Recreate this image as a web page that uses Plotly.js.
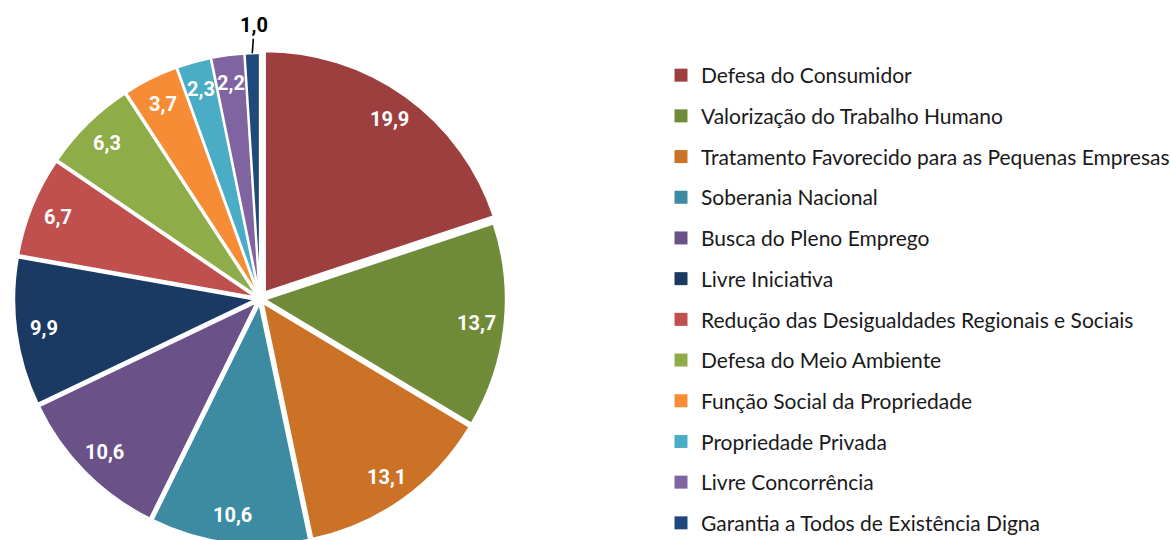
<!DOCTYPE html>
<html><head><meta charset="utf-8">
<script src="https://cdn.plot.ly/plotly-3.0.1.min.js"></script>
<style>html,body{margin:0;padding:0;overflow:hidden;background:#fff}</style>
</head><body><div id="chart" style="width:1171px;height:600px"></div>
<script>
const labels = [
  "Defesa do Consumidor",
  "Valorização do Trabalho Humano",
  "Tratamento Favorecido para as Pequenas Empresas",
  "Soberania Nacional",
  "Busca do Pleno Emprego",
  "Livre Iniciativa",
  "Redução das Desigualdades Regionais e Sociais",
  "Defesa do Meio Ambiente",
  "Função Social da Propriedade",
  "Propriedade Privada",
  "Livre Concorrência",
  "Garantia a Todos de Existência Digna"
];
const values = [19.9, 13.7, 13.1, 10.6, 10.6, 9.9, 6.7, 6.3, 3.7, 2.3, 2.2, 1.0];
const colors = ["#9D3F3F", "#6F8B38", "#CC7227", "#3D8BA3", "#6A5187", "#1A3A63",
                "#C0504D", "#8EAC48", "#F68D36", "#4BACC6", "#8064A2", "#1F497D"];
const pulls = [0.035, 0.02, 0.02, 0.02, 0.02, 0.02, 0.02, 0.02, 0.02, 0.02, 0.02, 0.02];
const insideLabel = [true, true, true, true, true, true, true, true, true, true, true, false];

// geometry (pixels)
const W = 1171, H = 600;
const cx = 260, cy = 299, R = 241;
const maxPull = Math.max(...pulls);
const half = R * (1 + maxPull);
const domX = [(cx - half) / W, (cx + half) / W];
const domY = [1 - (cy + half) / H, 1 - (cy - half) / H];

const fmt = v => v.toFixed(1).replace('.', ',');
const total = values.reduce((a, b) => a + b, 0);
const labelFont = 'Roboto, Liberation Sans Narrow, Arial Narrow, sans-serif';

const annotations = [];
let cum = 0;
values.forEach((v, i) => {
  const mid = (cum + v / 2) / total;
  cum += v;
  const th = 2 * Math.PI * mid;
  const s = Math.sin(th), c = Math.cos(th);
  if (insideLabel[i]) {
    const r = (0.885 + pulls[i]) * R;
    annotations.push({
      xref: 'paper', yref: 'paper', xanchor: 'center', yanchor: 'middle',
      x: (cx + r * s) / W, y: 1 - (cy - r * c) / H,
      text: '<b>' + fmt(v) + '</b>', showarrow: false,
      font: {family: labelFont, size: 20, color: '#ffffff'}
    });
  } else {
    const r = (1 + pulls[i]) * R;
    annotations.push({
      xref: 'paper', yref: 'paper', xanchor: 'center', yanchor: 'middle',
      x: (cx + r * s) / W, y: 1 - (cy - r * c) / H,
      text: '<b>' + fmt(v) + '</b>', showarrow: true,
      arrowhead: 0, arrowwidth: 1.6, arrowcolor: '#000000',
      ax: 2, ay: -28, standoff: 0,
      font: {family: labelFont, size: 20, color: '#000000'}
    });
  }
});

const traces = [{
  type: 'pie',
  labels: labels,
  values: values,
  sort: false,
  direction: 'clockwise',
  rotation: 0,
  pull: pulls,
  marker: {colors: colors, line: {color: '#ffffff', width: 2}},
  textinfo: 'none',
  hoverinfo: 'label+value',
  showlegend: false,
  domain: {x: domX, y: domY}
}];

labels.forEach((lab, i) => {
  traces.push({
    type: 'scatter', mode: 'markers',
    x: [null], y: [null],
    name: lab, legendgroup: 'g' + i,
    marker: {symbol: 'square', size: 13, color: colors[i], line: {width: 0}},
    hoverinfo: 'skip', showlegend: true
  });
});

const layout = {
  width: W, height: H,
  margin: {l: 0, r: 0, t: 0, b: 0, autoexpand: false},
  paper_bgcolor: '#ffffff', plot_bgcolor: '#ffffff',
  separators: ',.',
  xaxis: {visible: false}, yaxis: {visible: false},
  showlegend: true,
  legend: {
    x: 661 / W, xanchor: 'left',
    y: 1 - 55 / H, yanchor: 'top',
    font: {family: 'Lato, Carlito, Calibri, sans-serif', size: 21, color: '#1a1a1a'},
    tracegroupgap: 10.4,
    bgcolor: 'rgba(0,0,0,0)', borderwidth: 0,
    itemclick: false, itemdoubleclick: false
  },
  annotations: annotations
};

Plotly.newPlot('chart', traces, layout, {displayModeBar: false, staticPlot: true});
</script></body></html>
